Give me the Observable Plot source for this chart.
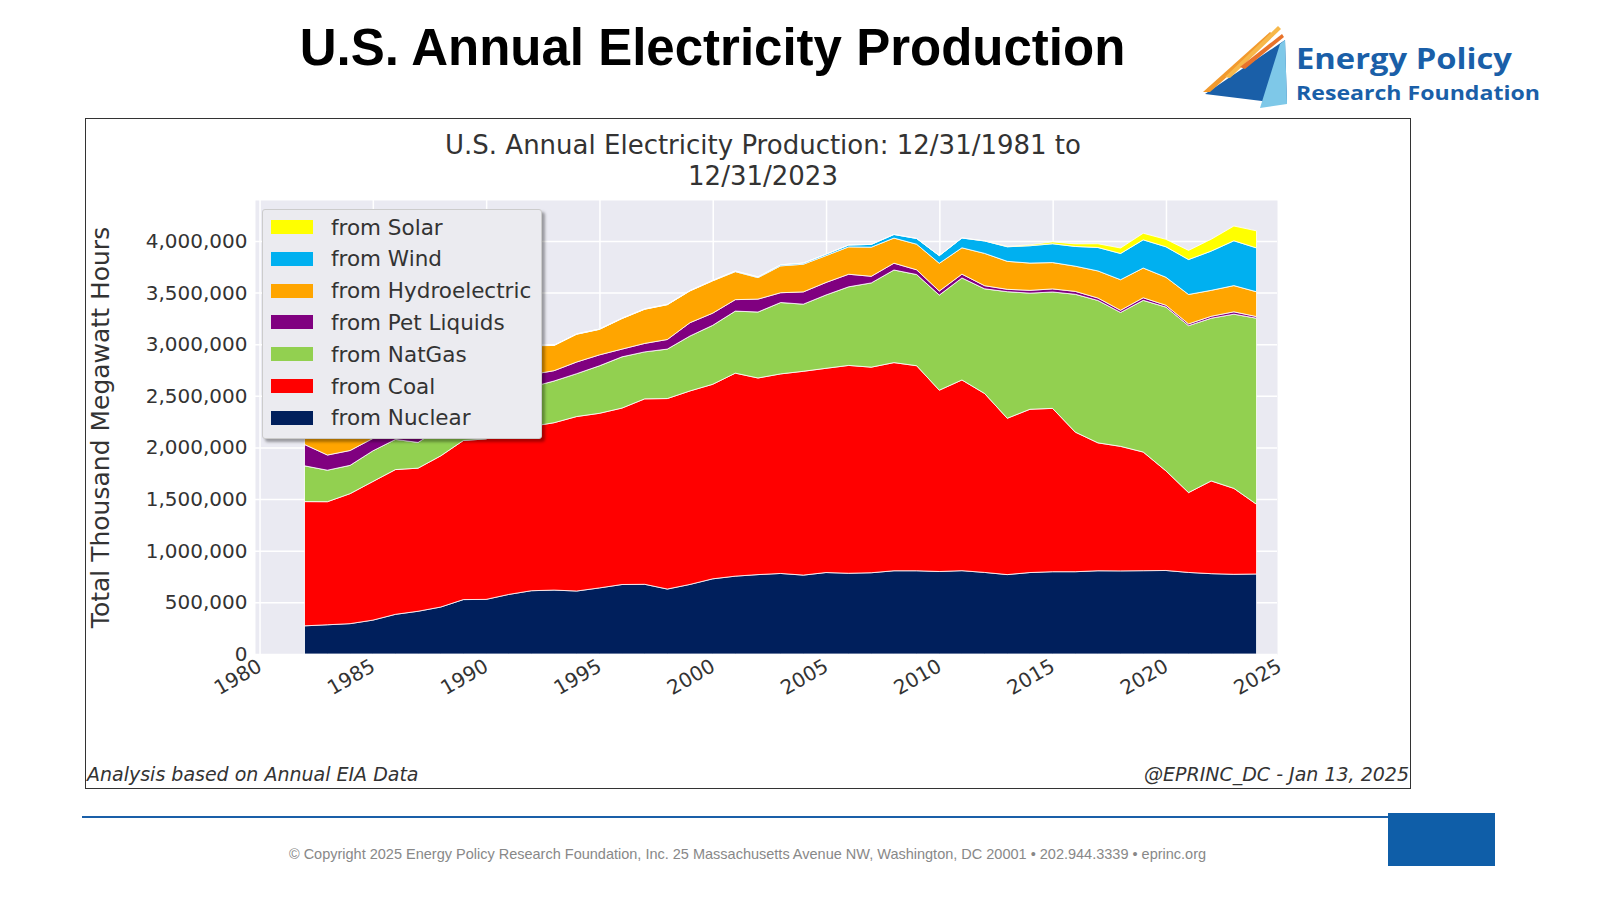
<!DOCTYPE html>
<html><head><meta charset="utf-8">
<script src="https://cdn.jsdelivr.net/npm/d3@7"></script>
<script src="https://cdn.jsdelivr.net/npm/@observablehq/plot@0.6"></script>
<style>
body{margin:0;width:1600px;height:900px;background:#fff;position:relative;font-family:"Liberation Sans",Arial,sans-serif;overflow:hidden}
#title{position:absolute;left:0;width:1425px;top:18px;text-align:center;font-weight:bold;font-size:51px;color:#000}
#box{position:absolute;left:85px;top:118px;width:1324px;height:669px;border:1px solid #333}
#ctitle{position:absolute;left:85px;width:1356px;top:130px;text-align:center;font-family:"DejaVu Sans";font-size:26px;color:#333;line-height:31px}
#chart{position:absolute;left:85px;top:195px}
#legend{position:absolute;left:262px;top:209px;width:278px;height:228px;background:#ebebf0;border:1px solid #ccc;box-shadow:3px 3px 3px rgba(0,0,0,0.35);border-radius:3px;font-family:"DejaVu Sans";font-size:21.5px;color:#333}
.li{position:absolute;left:8px;height:30px;display:flex;align-items:center}
.sw{width:42px;height:14px;margin-right:18px}
.cap{position:absolute;top:763px;font-family:"DejaVu Sans";font-style:italic;font-size:19px;color:#333}
#foot{position:absolute;left:0;width:1495px;top:846px;text-align:center;font-size:14.5px;color:#888}
</style></head><body>
<div id="title">U.S. Annual Electricity Production</div>
<svg style="position:absolute;left:1200px;top:22px" width="400" height="92">
<polygon points="5,72 85,18 87,82" fill="#1a5fa8"/>
<polygon points="60,86 87,82 85,18 80,22" fill="#7ec8e8"/>
<polygon points="3,70 70,10 74,13 10,70" fill="#f29a2e"/>
<polygon points="25,55 78,4 81,7 30,56" fill="#f7b84a"/>
<polygon points="40,45 82,12 84,15 45,47" fill="#e8722a"/>
<text x="96" y="47" font-family="Open Sans,Arial" font-weight="bold" font-size="29" fill="#1a5fa8" textLength="216" lengthAdjust="spacingAndGlyphs">Energy Policy</text>
<text x="96" y="78" font-family="Open Sans,Arial" font-weight="bold" font-size="20" fill="#1a5fa8" textLength="244" lengthAdjust="spacingAndGlyphs">Research Foundation</text>
</svg>
<div id="box"></div>
<div id="ctitle">U.S. Annual Electricity Production: 12/31/1981 to<br>12/31/2023</div>
<div id="chart"></div>
<div id="legend"></div>
<div class="cap" style="left:87px">Analysis based on Annual EIA Data</div>
<div class="cap" style="right:191px">@EPRINC_DC - Jan 13, 2025</div>
<div style="position:absolute;left:82px;top:816px;width:1310px;height:2px;background:#1a5fa8"></div>
<div style="position:absolute;left:1388px;top:813px;width:107px;height:53px;background:#0f5ea8"></div>
<div id="foot">© Copyright 2025 Energy Policy Research Foundation, Inc. 25 Massachusetts Avenue NW, Washington, DC 20001 • 202.944.3339 • eprinc.org</div>
<script>
const years = d3.range(1981, 2024);
const nuclear = [273,283,294,328,384,414,455,527,529,577,613,619,610,640,673,675,629,674,728,754,769,780,764,789,782,787,806,806,799,807,790,769,789,797,797,806,805,807,809,790,778,772,775];
const coal = [1203,1192,1259,1342,1402,1386,1464,1541,1554,1594,1591,1621,1690,1691,1709,1796,1845,1874,1884,1966,1904,1933,1974,1978,2013,1991,2016,1986,1756,1847,1733,1514,1581,1582,1352,1239,1206,1149,965,773,898,832,675];
const natgas = [346,305,274,297,292,249,273,253,352,373,382,404,415,460,496,455,479,532,571,601,639,691,650,710,761,816,897,883,921,988,1014,1226,1125,1127,1335,1379,1297,1469,1586,1617,1576,1687,1802];
const petliquids = [206,147,144,120,100,137,118,149,158,127,120,100,113,106,75,82,93,129,118,111,125,95,119,121,122,64,66,46,39,37,30,23,27,30,28,24,21,25,18,17,19,23,16];
const hydro = [261,309,332,321,281,291,250,223,265,283,280,244,269,247,296,331,337,308,313,271,208,260,268,260,265,282,243,248,269,255,313,271,264,255,244,262,296,288,271,285,251,254,240];
const wind = [0,0,0,0,1,1,2,2,2,3,3,3,3,3,3,3,3,3,4,6,7,10,11,14,18,27,35,55,74,95,120,141,168,182,191,227,254,273,295,338,380,434,425];
const solar = [0,0,0,0,0,0,0,0,0,0,0,0,0,0,0,0,0,0,0,0,0,0,0,0,0,0,1,1,1,1,2,4,9,18,25,36,53,64,72,89,115,143,165];
const sources = ["from Nuclear","from Coal","from NatGas","from Pet Liquids","from Hydroelectric","from Wind","from Solar"];
const colors = ["#001f5c","#ff0000","#92d050","#800080","#ffa500","#00b0f0","#ffff00"];
const series = [nuclear,coal,natgas,petliquids,hydro,wind,solar];
const data = [];
sources.forEach((s,i)=>years.forEach((y,j)=>data.push({source:s,x:y+0.997,v:series[i][j]*1000})));
const plot = Plot.plot({
  width:1325, height:540, marginLeft:170, marginRight:133, marginTop:5, marginBottom:81,
  style:{fontFamily:"DejaVu Sans",fontSize:"20px",color:"#333",background:"transparent",overflow:"visible"},
  x:{domain:[1979.8,2024.9]},
  y:{domain:[0,4397000]},
  color:{domain:sources,range:colors},
  marks:[
    Plot.frame({fill:"#eaeaf2",stroke:null}),
    Plot.gridX(d3.range(1980,2026,5),{stroke:"#fff",strokeOpacity:1,strokeWidth:1.5}),
    Plot.gridY(d3.range(0,4000001,500000),{stroke:"#fff",strokeOpacity:1,strokeWidth:1.5}),
    Plot.areaY(data,{x:"x",y:"v",fill:"source",order:sources,stroke:"#fff",strokeWidth:1,strokeOpacity:0.8}),
    Plot.axisX({ticks:d3.range(1980,2026,5),tickFormat:d=>String(d),tickRotate:-30,tickSize:0,tickPadding:10,label:null,fontSize:20}),
    Plot.axisY({ticks:d3.range(0,4000001,500000),tickFormat:d3.format(","),tickSize:0,tickPadding:8,label:null,fontSize:20}),
    Plot.text(["Total Thousand Megawatt Hours"],{frameAnchor:"left",textAnchor:"middle",dx:-155,dy:0,rotate:-90,fontSize:25,fill:"#333"})
  ]
});
document.getElementById("chart").appendChild(plot);
const lg = document.getElementById("legend");
[...sources].reverse().forEach((s,i)=>{
  const c = colors[sources.indexOf(s)];
  lg.insertAdjacentHTML("beforeend",`<div class="li" style="top:${i*31.8+2}px"><div class="sw" style="background:${c}"></div>${s}</div>`);
});
</script>
</body></html>
